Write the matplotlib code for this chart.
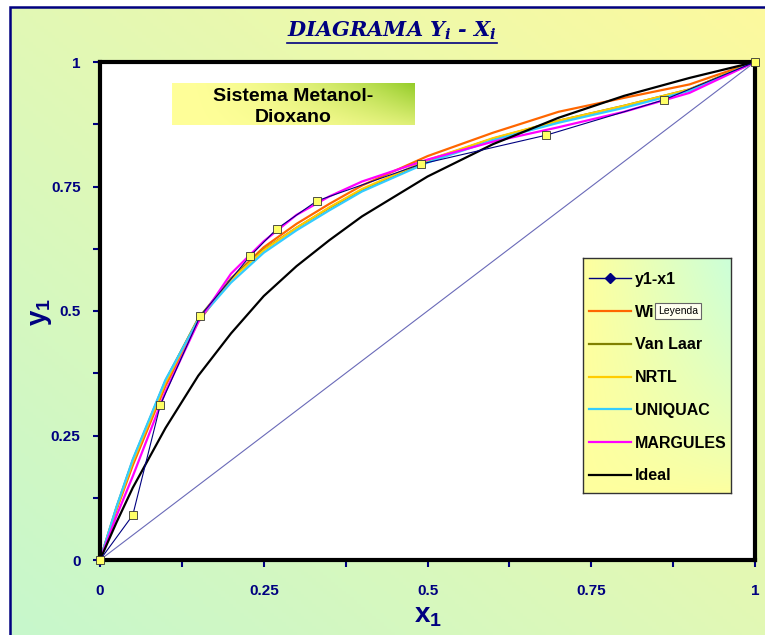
import numpy as np
import matplotlib
matplotlib.use("Agg")
import matplotlib.pyplot as plt
from matplotlib.lines import Line2D
from matplotlib.patches import Rectangle

plt.rcParams['mathtext.fontset'] = 'custom'
plt.rcParams['mathtext.it'] = 'DejaVu Serif:italic:bold'
plt.rcParams['mathtext.bf'] = 'Liberation Sans:bold'
plt.rcParams['mathtext.rm'] = 'Liberation Sans'

# datos experimentales y1-x1
x_exp = [0.0, 0.050, 0.092, 0.153, 0.229, 0.270, 0.331, 0.490, 0.681, 0.861, 1.0]
y_exp = [0.0, 0.090, 0.311, 0.490, 0.610, 0.665, 0.721, 0.795, 0.853, 0.924, 1.0]

# modelos
x_mod = [0.0, 0.025, 0.05, 0.1, 0.15, 0.2, 0.25, 0.3, 0.35, 0.4, 0.5, 0.6, 0.7, 0.8, 0.9, 1.0]
y_wilson = [0.0, 0.100, 0.190, 0.350, 0.478, 0.565, 0.628, 0.675, 0.715, 0.752, 0.811, 0.858, 0.900, 0.928, 0.955, 1.0]
y_vanlaar = [0.0, 0.105, 0.200, 0.360, 0.485, 0.565, 0.623, 0.667, 0.707, 0.743, 0.802, 0.846, 0.882, 0.912, 0.945, 1.0]
y_nrtl = [0.0, 0.103, 0.197, 0.357, 0.483, 0.563, 0.622, 0.667, 0.708, 0.745, 0.803, 0.847, 0.882, 0.912, 0.945, 1.0]
y_uniquac = [0.0, 0.106, 0.202, 0.362, 0.482, 0.557, 0.617, 0.662, 0.702, 0.740, 0.798, 0.843, 0.878, 0.908, 0.942, 1.0]
y_margules = [0.0, 0.088, 0.168, 0.338, 0.478, 0.575, 0.640, 0.693, 0.730, 0.760, 0.804, 0.840, 0.869, 0.900, 0.938, 1.0]
y_ideal = [0.0, 0.075, 0.145, 0.265, 0.370, 0.455, 0.530, 0.590, 0.642, 0.690, 0.770, 0.835, 0.888, 0.932, 0.968, 1.0]
diag = [0.0, 1.0]

ticks = [0, 0.25, 0.5, 0.75, 1]
tick_lbl = ['0', '0.25', '0.5', '0.75', '1']

navy = '#000080'
W, H = 765, 635
fig = plt.figure(figsize=(7.65, 6.35), dpi=100)
fig.patch.set_facecolor('white')


def px(x0, y0, x1, y1):
    return [x0 / W, 1 - y1 / H, (x1 - x0) / W, (y1 - y0) / H]


def grad_axes(rect, c0, c1, wfun, z):
    a = fig.add_axes(rect, zorder=z)
    xx, yy = np.meshgrid(np.linspace(0, 1, 200), np.linspace(0, 1, 200))
    w = np.clip(wfun(xx, yy), 0, 1)[..., None]
    img = (1 - w) * np.array(c0) + w * np.array(c1)
    a.imshow(img, origin='lower', aspect='auto', extent=(0, 1, 0, 1))
    a.set_xticks([])
    a.set_yticks([])
    return a


# fondo del area del grafico
bg = grad_axes(px(10, 7, W, H), (0.78, 0.97, 0.80), (0.99, 0.98, 0.62),
               lambda x, y: (x + y) / 2, -10)
for s in bg.spines.values():
    s.set_visible(False)
fig.patches.append(Rectangle((10 / W, -0.05), 1.2, 1 - 7 / H + 0.05, transform=fig.transFigure,
                             fill=False, edgecolor=navy, lw=1.8, zorder=-5))

ax = fig.add_axes(px(100, 62, 755, 560), zorder=0)
ax.set_facecolor('white')

ax.plot(diag, diag, color='#6a6ab8', lw=0.8)
ax.plot(x_mod, y_wilson, color='#ff6600', lw=1.6)
ax.plot(x_mod, y_vanlaar, color='#808000', lw=1.6)
ax.plot(x_mod, y_nrtl, color='#ffcc00', lw=1.6)
ax.plot(x_mod, y_uniquac, color='#33ccff', lw=1.6)
ax.plot(x_mod, y_margules, color='#ff00ff', lw=1.6)
ax.plot(x_mod, y_ideal, color='black', lw=1.6)
ax.plot(x_exp, y_exp, color=navy, lw=0.8, marker='s', ms=6, mfc='#ffff66',
        mec='#333333', mew=0.6, clip_on=False, zorder=5)

ax.set_xlim(0, 1)
ax.set_ylim(0, 1)
ax.set_xticks(ticks)
ax.set_xticklabels(tick_lbl)
ax.set_yticks(ticks)
ax.set_yticklabels(tick_lbl)
ax.set_xticks(np.arange(0.125, 1, 0.25), minor=True)
ax.set_yticks(np.arange(0.125, 1, 0.25), minor=True)
ax.tick_params(which='both', direction='out', length=5, width=1.5, color=navy)
ax.tick_params(axis='x', pad=12)
ax.tick_params(axis='y', pad=9)
for lab in ax.get_xticklabels() + ax.get_yticklabels():
    lab.set_fontfamily('Liberation Sans')
    lab.set_fontweight('bold')
    lab.set_fontsize(11)
    lab.set_color(navy)
for s in ax.spines.values():
    s.set_color('black')
    s.set_linewidth(3)

fig.text(428 / W, 1 - 615 / H, r'$\mathbf{x_1}$', fontsize=20, color=navy, ha='center', va='center')
fig.text(40 / W, 1 - 312 / H, r'$\mathbf{y_1}$', fontsize=20, color=navy, ha='center', va='center',
         rotation=90)

# titulo
tt = fig.text(392 / W, 1 - 31 / H, r'DIAGRAMA $Y_i$ - $X_i$', fontfamily='DejaVu Serif',
              fontstyle='italic', fontweight='bold', fontsize=15, color=navy,
              ha='center', va='center')

# caja del subtitulo
sb = grad_axes(px(172, 83, 415, 125), (1.0, 1.0, 0.6), (0.58, 0.80, 0.16),
               lambda x, y: x ** 2 * (0.3 + 0.7 * y), 2)
for s in sb.spines.values():
    s.set_visible(False)
sb.text(0.5, 0.43, 'Sistema Metanol-\nDioxano', ha='center', va='center', fontsize=14,
        fontfamily='Liberation Sans', fontweight='bold', linespacing=1.35, transform=sb.transAxes)

# caja de la leyenda
lb = grad_axes(px(583, 258, 731, 493), (1.0, 1.0, 0.62), (0.80, 1.0, 0.85),
               lambda x, y: x * y ** 0.7, 2)
for s in lb.spines.values():
    s.set_color('#333333')
    s.set_linewidth(1)

handles = [
    Line2D([], [], color=navy, lw=1, marker='D', ms=5),
    Line2D([], [], color='#ff6600', lw=1.6),
    Line2D([], [], color='#808000', lw=1.6),
    Line2D([], [], color='#ffcc00', lw=1.6),
    Line2D([], [], color='#33ccff', lw=1.6),
    Line2D([], [], color='#ff00ff', lw=1.6),
    Line2D([], [], color='black', lw=1.6),
]
# la etiqueta "Wilson" queda tapada por el tooltip "Leyenda" en la imagen
names = ['y1-x1', 'Wi', 'Van Laar', 'NRTL', 'UNIQUAC', 'MARGULES', 'Ideal']
leg = fig.legend(handles, names, loc='upper left', bbox_to_anchor=(589 / W, 1 - 272 / H),
                 frameon=False, borderpad=0, borderaxespad=0, handlelength=2.6,
                 handletextpad=0.25, labelspacing=1.11,
                 prop={'family': 'Liberation Sans', 'weight': 'bold', 'size': 11.5})
leg.set_zorder(10)

# tooltip de excel
fig.text(658 / W, 1 - 311 / H, 'Leyenda', fontsize=7.5, fontfamily='Liberation Sans', va='center',
         ha='left', zorder=12,
         bbox=dict(boxstyle='square,pad=0.3', facecolor='#fffff0', edgecolor='#666666', lw=0.8))

# subrayado del titulo
fig.canvas.draw()
bb = tt.get_window_extent()
fig.lines.append(Line2D([bb.x0 / W, bb.x1 / W], [(bb.y0 - 1) / H, (bb.y0 - 1) / H],
                        transform=fig.transFigure, color=navy, lw=1.2))

fig.savefig('out.png', dpi=100)
